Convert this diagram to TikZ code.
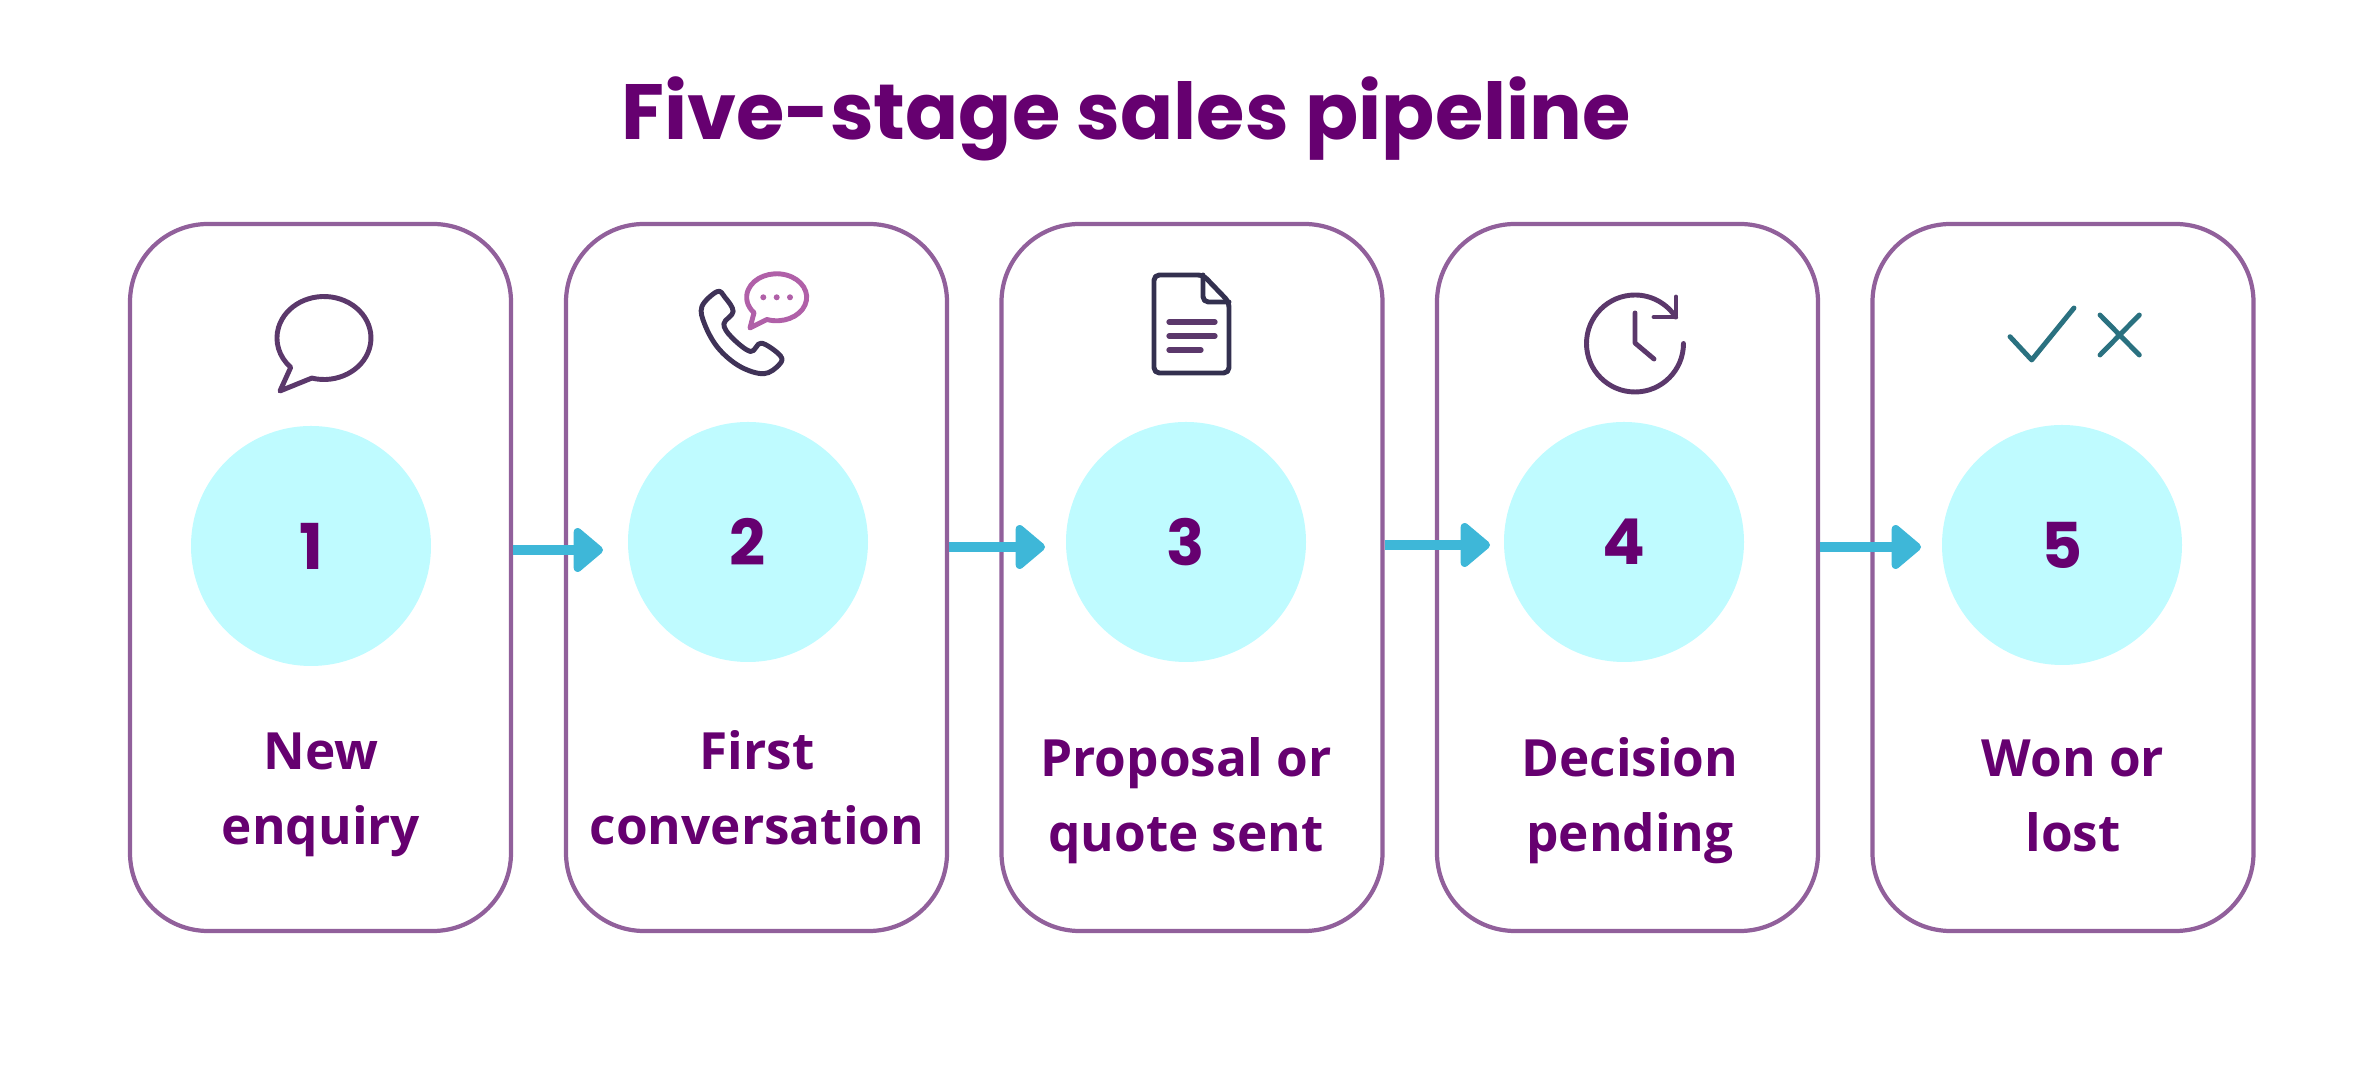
\documentclass[tikz,border=0pt]{standalone}
\usepackage{fontspec}
\setmainfont{Open Sans}
\newfontfamily\poppins{Poppins}
\definecolor{salesPurple}{RGB}{102,0,112}
\definecolor{boxPurple}{RGB}{145,96,155}
\definecolor{discCyan}{RGB}{191,251,255}
\definecolor{flowBlue}{RGB}{62,183,216}
\definecolor{iconPlum}{RGB}{91,56,107}
\definecolor{iconInk}{RGB}{51,48,79}
\definecolor{iconPink}{RGB}{176,96,168}
\definecolor{iconTeal}{RGB}{42,113,128}
\usetikzlibrary{arrows.meta,positioning}

\begin{document}
\begin{tikzpicture}[
        stage/.style={draw=boxPurple, line width=1.2pt, rounded corners=0.78cm,
          minimum width=3.81cm, minimum height=7.07cm},
        disc/.style={circle, fill=discCyan, minimum size=2.4cm, inner sep=0pt,
          text=salesPurple, font=\poppins\bfseries\fontsize{18}{22}\selectfont},
        caption/.style={text=salesPurple, align=center, inner sep=0pt,
          font=\bfseries\fontsize{14.6}{21.3}\selectfont},
        flow/.style={draw=flowBlue, line width=2.9pt,
          -{Triangle[round, length=9pt, width=14.5pt]}},
        icon/.style={draw=iconPlum, line width=1.4pt, line join=round, line cap=round},
      ]
        \useasboundingbox (0, 0) rectangle (23.54, 10.68);

        \node[text=salesPurple, font=\poppins\bfseries\fontsize{22.3}{27}\selectfont] (title) at (11.26, 9.49) {Five-stage sales pipeline};

        \node[stage] (box1) at (3.205, 4.905) {};
        \node[stage] (box2) at (7.565, 4.905) {};
        \node[stage] (box3) at (11.92, 4.905) {};
        \node[stage] (box4) at (16.275, 4.905) {};
        \node[stage] (box5) at (20.63, 4.905) {};

        \node[disc] (disc1) at (3.11, 5.22) {1};
        \node[disc] (disc2) at (7.48, 5.26) {2};
        \node[disc] (disc3) at (11.86, 5.26) {3};
        \node[disc] (disc4) at (16.24, 5.26) {4};
        \node[disc] (disc5) at (20.62, 5.23) {5};

        \node[caption] (cap1) at (3.21, 2.735) {New\\enquiry};
        \node[caption] (cap2) at (7.57, 2.80) {First\\conversation};
        \node[caption] (cap3) at (11.86, 2.675) {Proposal or\\quote sent};
        \node[caption] (cap4) at (16.30, 2.675) {Decision\\pending};
        \node[caption] (cap5) at (20.73, 2.72) {Won or\\lost};

        \coordinate (tip1) at (6.03, 5.18);
        \coordinate (tip2) at (10.45, 5.21);
        \coordinate (tip3) at (14.90, 5.23);
        \coordinate (tip4) at (19.21, 5.21);

        \draw[flow] (box1.east |- tip1) -- (tip1);
        \draw[flow] (box2.east |- tip2) -- (tip2);
        \draw[flow] (box3.east |- tip3) -- (tip3);
        \draw[flow] (box4.east |- tip4) -- (tip4);

        % speech bubble
        \draw[icon] (3.118, 6.899) arc[start angle=255, end angle=585, x radius=0.47, y radius=0.415]
          -- (2.80, 6.77) -- cycle;

        % phone with small bubble
        \begin{scope}[shift={(6.60, 8.18)}, x=0.00333cm, y=-0.00333cm]
          \draw[icon, draw=iconInk!70!iconPlum] plot[smooth cycle, tension=0.6] coordinates {
            (126,170) (172,125) (195,142) (220,185) (192,222) (215,262)
            (272,305) (305,280) (362,318) (358,345) (312,372) (240,350) (175,295) (135,225)};
        \end{scope}
        \draw[icon, draw=iconPink] (7.669, 7.485) arc[start angle=251, end angle=581, x radius=0.30, y radius=0.235]
          -- (7.50, 7.40) -- cycle;
        \fill[iconPink] (7.633, 7.707) circle (0.03) (7.767, 7.707) circle (0.03) (7.90, 7.707) circle (0.03);

        % document
        \draw[icon, draw=iconInk, rounded corners=1.5pt] (11.54, 6.95) -- (11.54, 7.93) -- (12.03, 7.93)
          -- (12.29, 7.66) -- (12.29, 6.95) -- cycle;
        \draw[icon, draw=iconInk, rounded corners=1.5pt] (12.03, 7.93) -- (12.03, 7.66) -- (12.29, 7.66);
        \draw[icon, line width=1.5pt] (11.69, 7.46) -- (12.15, 7.46);
        \draw[icon, line width=1.5pt] (11.69, 7.32) -- (12.15, 7.32);
        \draw[icon, line width=1.5pt] (11.69, 7.18) -- (12.01, 7.18);

        % clock
        \draw[icon] (16.835, 7.245) arc[start angle=0, end angle=-327, radius=0.485];
        \draw[icon] (16.76, 7.71) -- (16.76, 7.51) -- (16.54, 7.51);
        \draw[icon] (16.35, 7.55) -- (16.35, 7.25) -- (16.54, 7.09);

        % tick and cross
        \draw[icon, draw=iconTeal] (20.10, 7.313) -- (20.317, 7.08) -- (20.74, 7.60);
        \draw[icon, draw=iconTeal] (21.00, 7.53) -- (21.393, 7.13);
        \draw[icon, draw=iconTeal] (21.393, 7.53) -- (21.00, 7.13);
      \end{tikzpicture}
\end{document}
